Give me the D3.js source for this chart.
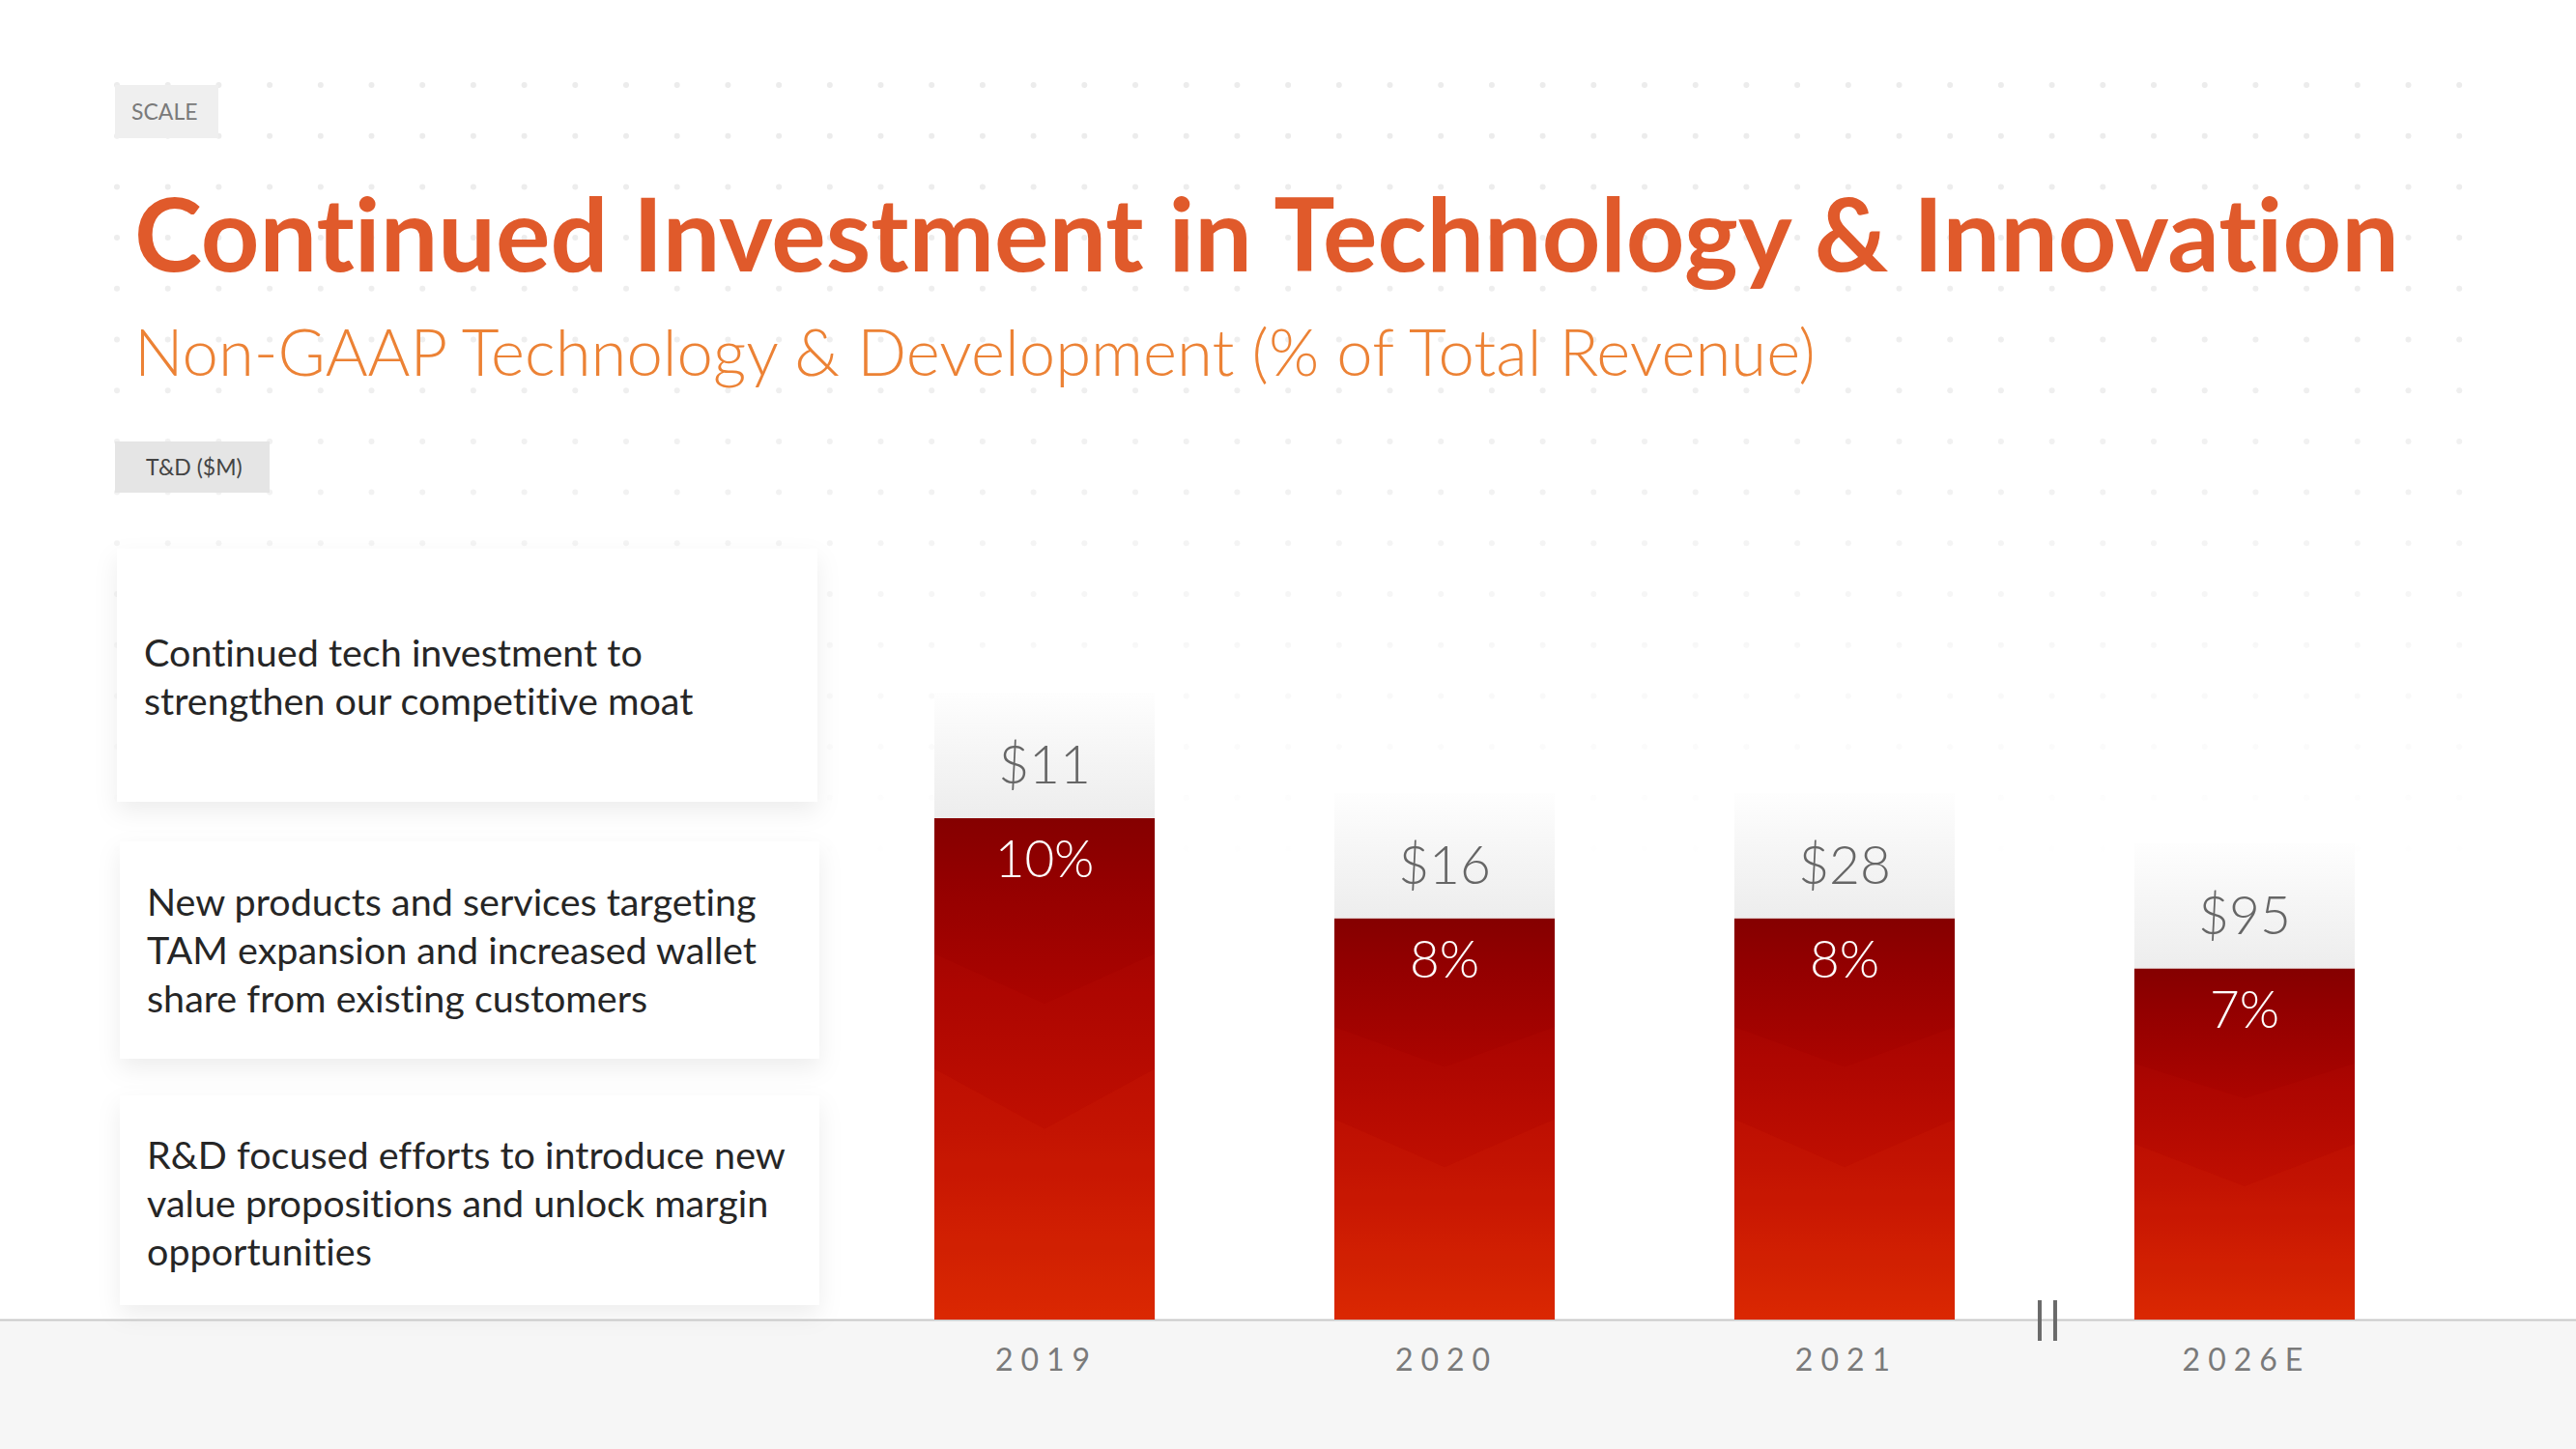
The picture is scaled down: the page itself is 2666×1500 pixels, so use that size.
<!DOCTYPE html>
<html>
<head>
<meta charset="utf-8">
<script src="https://cdn.jsdelivr.net/npm/d3@7"></script>
<style>
  html, body { margin: 0; padding: 0; background: #ffffff; }
  svg { display: block; }
  text { font-variant-ligatures: none; font-feature-settings: "liga" 0, "clig" 0; }
</style>
</head>
<body>
<script>
// ---------- data ----------
const years = ["2019", "2020", "2021", "2026E"];
const pctValues = [10, 8, 8, 7];            // T&D as % of total revenue (bar height)
const spendValues = [11, 16, 28, 95];       // T&D ($M)
const pctDomain = [0, 10];
const tagScale = "SCALE";
const tagUnits = "T&D ($M)";
const titleText = "Continued Investment in Technology & Innovation";
const subtitleText = "Non-GAAP Technology & Development (% of Total Revenue)";
const bulletLines = [
  ["Continued tech investment to", "strengthen our competitive moat"],
  ["New products and services targeting", "TAM expansion and increased wallet", "share from existing customers"],
  ["R&D focused efforts to introduce new", "value propositions and unlock margin", "opportunities"]
];

// ---------- layout ----------
const W = 2666, H = 1500;
const FONT = "Lato, 'Open Sans', sans-serif";
const baseY = 1366;

const svg = d3.select("body").append("svg").attr("width", W).attr("height", H);
const defs = svg.append("defs");

function fitWidth(sel, target) {
  const w = sel.node().getComputedTextLength();
  const fs = parseFloat(sel.attr("font-size"));
  if (w > 0) sel.attr("font-size", (fs * target / w).toFixed(2));
}

// gradients
const barGrad = defs.append("linearGradient").attr("id", "barGrad")
  .attr("x1", 0).attr("y1", 0).attr("x2", 0).attr("y2", 1);
[[0, "#850000"], [0.12, "#930000"], [0.35, "#aa0400"], [0.62, "#bd0d00"], [1, "#d82600"]]
  .forEach(([o, c]) => barGrad.append("stop").attr("offset", o).attr("stop-color", c));

const capGrad = defs.append("linearGradient").attr("id", "capGrad")
  .attr("x1", 0).attr("y1", 0).attr("x2", 0).attr("y2", 1);
[[0, "#fefefe"], [0.5, "#f5f5f5"], [1, "#ededed"]]
  .forEach(([o, c]) => capGrad.append("stop").attr("offset", o).attr("stop-color", c));

const dotFade = defs.append("linearGradient").attr("id", "dotFade")
  .attr("gradientUnits", "userSpaceOnUse")
  .attr("x1", 0).attr("y1", 0).attr("x2", 0).attr("y2", 900);
[[0, "#fff", 1], [0.45, "#fff", 0.8], [1, "#fff", 0]]
  .forEach(([o, c, a]) => dotFade.append("stop").attr("offset", o).attr("stop-color", c).attr("stop-opacity", a));
defs.append("mask").attr("id", "dotMask")
  .append("rect").attr("width", W).attr("height", H).attr("fill", "url(#dotFade)");

const shadow = defs.append("filter").attr("id", "cardShadow")
  .attr("x", "-10%").attr("y", "-10%").attr("width", "120%").attr("height", "140%");
shadow.append("feDropShadow").attr("dx", 0).attr("dy", 10).attr("stdDeviation", 12)
  .attr("flood-color", "#000").attr("flood-opacity", 0.07);

// ---------- background dot grid ----------
const dotG = svg.append("g").attr("mask", "url(#dotMask)");
const dotXs = d3.range(121, 2580, 52.7);
const dotYs = d3.range(88, 900, 52.7);
dotYs.forEach(y => dotXs.forEach(x => {
  dotG.append("circle").attr("cx", x).attr("cy", y).attr("r", 3).attr("fill", "#ebebeb");
}));

// bottom band
svg.append("rect").attr("x", 0).attr("y", baseY).attr("width", W).attr("height", H - baseY).attr("fill", "#f6f6f6");

// ---------- tags ----------
function tag(x, y, w, h, bg, text, color, tx) {
  svg.append("rect").attr("x", x).attr("y", y).attr("width", w).attr("height", h).attr("fill", bg);
  svg.append("text").attr("x", tx).attr("y", y + h / 2).attr("dy", "0.35em")
    .attr("font-family", FONT).attr("font-size", 23).attr("font-weight", 400)
    .attr("fill", color).text(text);
}
tag(119, 88, 107, 55, "#efefef", tagScale, "#7a7a7a", 136);
tag(119, 457, 160, 53, "#e5e5e5", tagUnits, "#444", 151);

// ---------- title ----------
const title = svg.append("text").attr("x", 139).attr("y", 281)
  .attr("font-family", FONT).attr("font-weight", 700).attr("font-size", 113)
  .attr("fill", "#e05a2b").text(titleText);
fitWidth(title, 2344);
const subtitle = svg.append("text").attr("x", 139).attr("y", 389)
  .attr("font-family", FONT).attr("font-weight", 300).attr("font-size", 70)
  .attr("fill", "#ec8235").text(subtitleText);
fitWidth(subtitle, 1740);

// ---------- bullet cards ----------
const cards = [
  { x: 121, y: 568, w: 725, h: 262, tx: 149, base: 690 },
  { x: 124, y: 871, w: 724, h: 225, tx: 152, base: 948 },
  { x: 124, y: 1134, w: 724, h: 217, tx: 152, base: 1210 }
];
cards.forEach((c, i) => {
  svg.append("rect").attr("x", c.x).attr("y", c.y).attr("width", c.w).attr("height", c.h)
    .attr("fill", "#fff").attr("filter", "url(#cardShadow)");
  const t = svg.append("text").attr("font-family", FONT).attr("font-size", 39.5)
    .attr("font-weight", 400).attr("fill", "#262626");
  bulletLines[i].forEach((line, j) => {
    t.append("tspan").attr("x", c.tx).attr("y", c.base + j * 50).text(line);
  });
});

// ---------- chart ----------
const x = d3.scaleBand().domain(years).range([967, 2437]).paddingInner(0.449).paddingOuter(0);
const y = d3.scaleLinear().domain(pctDomain).range([baseY, 847]);
const capH = 130;

// axis baseline
svg.append("line").attr("x1", 0).attr("x2", W).attr("y1", baseY + 0.5).attr("y2", baseY + 0.5)
  .attr("stroke", "#c9c9c9").attr("stroke-width", 2);

const barG = svg.append("g");
years.forEach((yr, i) => {
  const x0 = x(yr), bw = x.bandwidth(), x1 = x0 + bw, xc = x0 + bw / 2;
  const top = y(pctValues[i]), h = baseY - top;
  // grey value cap
  barG.append("rect").attr("x", x0).attr("y", top - capH).attr("width", bw).attr("height", capH)
    .attr("fill", "url(#capGrad)");
  // red bar
  barG.append("rect").attr("x", x0).attr("y", top).attr("width", bw).attr("height", h)
    .attr("fill", "url(#barGrad)");
  // subtle chevrons
  [[0.27, 0.37, 0.06], [0.5, 0.62, 0.1]].forEach(([wing, tip, a]) => {
    const pts = [[x0, top + h * wing], [xc, top + h * tip], [x1, top + h * wing], [x1, baseY], [x0, baseY]];
    barG.append("path").attr("d", d3.line()(pts)).attr("fill", "#e83a10").attr("fill-opacity", a);
  });
  // labels
  barG.append("text").attr("x", xc).attr("y", top - 36).attr("text-anchor", "middle")
    .attr("font-family", FONT).attr("font-size", 55).attr("font-weight", 300)
    .attr("fill", "#666").text("$" + spendValues[i]);
  barG.append("text").attr("x", xc).attr("y", top + 61).attr("text-anchor", "middle")
    .attr("font-family", FONT).attr("font-size", 53).attr("font-weight", 300)
    .attr("fill", "#fff").text(pctValues[i] + "%");
});

// x axis labels via d3 axis
const axisG = svg.append("g").attr("transform", `translate(0,${baseY})`)
  .call(d3.axisBottom(x).tickSize(0).tickPadding(30));
axisG.select(".domain").remove();
axisG.selectAll("text")
  .attr("font-family", FONT).attr("font-size", 32).attr("font-weight", 400)
  .attr("fill", "#7a7a7a").attr("letter-spacing", "8px")
  .attr("dx", "2px");

// axis break marker between 2021 and 2026E
const bx = (x("2021") + x.bandwidth() + x("2026E")) / 2 + 3;
[-8, 8].forEach(d => {
  svg.append("line").attr("x1", bx + d).attr("x2", bx + d).attr("y1", baseY - 20).attr("y2", baseY + 22)
    .attr("stroke", "#6a6a6a").attr("stroke-width", 4);
});
</script>
</body>
</html>
